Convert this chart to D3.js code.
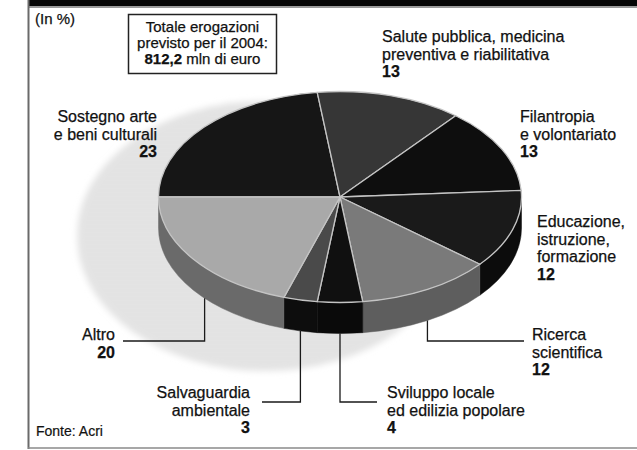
<!DOCTYPE html>
<html><head><meta charset="utf-8">
<script src="https://cdn.jsdelivr.net/npm/d3@7"></script>
<style>body{margin:0;background:#fff}svg{display:block}</style>
</head><body>
<svg id="c" width="637" height="450"></svg>
<script>
// ---- data ----
const categories = [
  "Sostegno arte e beni culturali",
  "Salute pubblica, medicina preventiva e riabilitativa",
  "Filantropia e volontariato",
  "Educazione, istruzione, formazione",
  "Ricerca scientifica",
  "Sviluppo locale ed edilizia popolare",
  "Salvaguardia ambientale",
  "Altro"
];
const values = [23, 13, 13, 12, 12, 4, 3, 20];
const labelLines = [
  ["Sostegno arte", "e beni culturali"],
  ["Salute pubblica, medicina", "preventiva e riabilitativa"],
  ["Filantropia", "e volontariato"],
  ["Educazione,", "istruzione,", "formazione"],
  ["Ricerca", "scientifica"],
  ["Sviluppo locale", "ed edilizia popolare"],
  ["Salvaguardia", "ambientale"],
  ["Altro"]
];
const unitLabel = "(In %)";
const boxLines = ["Totale erogazioni", "previsto per il 2004:"];
const totalValue = "812,2";
const totalUnit = " mln di euro";
const sourceLabel = "Fonte: Acri";

// ---- styles / layout ----
const topColors  = ["#161616", "#363636", "#0e0e0e", "#1a1a1a", "#7a7a7a", "#101010", "#4a4a4a", "#a9a9a9"];
const sideColors = ["#111111", "#222222", "#0a0a0a", "#0c0c0c", "#5e5e5e", "#0a0a0a", "#0d0d0d", "#6a6a6a"];
const labelLayout = [
  {x: 157, y: 122, anchor: "end"},
  {x: 382, y: 42,  anchor: "start"},
  {x: 520, y: 122, anchor: "start"},
  {x: 537, y: 227, anchor: "start"},
  {x: 532, y: 340, anchor: "start"},
  {x: 387, y: 398, anchor: "start"},
  {x: 250, y: 398, anchor: "end"},
  {x: 115, y: 340, anchor: "end"}
];
// leader: fraction inside slice, elbow y, end x
const leaderLayout = {
  4: {f: 0.5,  y: 341, x: 524},
  5: {f: 0.5,  y: 402, x: 377},
  6: {f: 0.5,  y: 402, x: 262},
  7: {f: 0.42, y: 341, x: 123}
};
const font = "'Liberation Sans', Arial, Helvetica, sans-serif";
const lh = 17.5;

const svg = d3.select("#c");
const defs = svg.append("defs");
defs.append("filter").attr("id", "soft").attr("x", "-10%").attr("y", "-10%").attr("width", "120%").attr("height", "120%")
  .append("feGaussianBlur").attr("stdDeviation", 3);
const pat = defs.append("pattern").attr("id", "ht").attr("width", 4).attr("height", 4).attr("patternUnits", "userSpaceOnUse");
pat.append("rect").attr("width", 4).attr("height", 4).attr("fill", "#ebebeb");
pat.append("path").attr("d", "M0,0.5H4M0.5,0V4").attr("stroke", "#d9d9d9").attr("stroke-width", 1);

// frame
svg.append("rect").attr("x", 28).attr("y", 0).attr("width", 609).attr("height", 6).attr("fill", "#050505");
svg.append("rect").attr("x", 28).attr("y", 6).attr("width", 609).attr("height", 2).attr("fill", "#9a9a9a");
svg.append("line").attr("x1", 28.5).attr("x2", 28.5).attr("y1", 0).attr("y2", 449)
  .attr("stroke", "#6a6a6a").attr("stroke-width", 2);
svg.append("line").attr("x1", 28).attr("x2", 637).attr("y1", 448).attr("y2", 448)
  .attr("stroke", "#8a8a8a").attr("stroke-width", 1.5);

// shadow
svg.append("ellipse").attr("cx", 265).attr("cy", 236).attr("rx", 188).attr("ry", 135)
  .attr("fill", "url(#ht)").attr("filter", "url(#soft)");

// pie geometry
const cx = 340, cy = 197, rx = 181.5, ry = 105.5, depth = 31;
const pie = d3.pie().sort(null).startAngle(-Math.PI / 2).endAngle(1.5 * Math.PI);
const arcs = pie(values);
const P = (a, dy = 0) => [cx + rx * Math.sin(a), cy - ry * Math.cos(a) + dy];

function topPath(d) {
  const [x0, y0] = P(d.startAngle), [x1, y1] = P(d.endAngle);
  const large = d.endAngle - d.startAngle > Math.PI ? 1 : 0;
  return `M${cx},${cy}L${x0},${y0}A${rx},${ry} 0 ${large} 1 ${x1},${y1}Z`;
}
function sidePath(d) {
  const a0 = Math.max(d.startAngle, Math.PI / 2), a1 = Math.min(d.endAngle, 1.5 * Math.PI);
  if (a1 <= a0) return null;
  const [x0, y0] = P(a0), [x1, y1] = P(a1);
  const [x2, y2] = P(a1, depth), [x3, y3] = P(a0, depth);
  return `M${x0},${y0}A${rx},${ry} 0 0 1 ${x1},${y1}L${x2},${y2}A${rx},${ry} 0 0 0 ${x3},${y3}Z`;
}

const g = svg.append("g");
g.selectAll("path.side").data(arcs.filter(d => sidePath(d))).join("path")
  .attr("class", "side").attr("d", sidePath)
  .attr("fill", d => sideColors[d.index]).attr("stroke", d => sideColors[d.index]).attr("stroke-width", 0.5);
g.selectAll("path.top").data(arcs).join("path")
  .attr("class", "top").attr("d", topPath)
  .attr("fill", d => topColors[d.index])
  .attr("stroke", "#c4c4c4").attr("stroke-width", 1.3).attr("stroke-linejoin", "round");

// leaders
Object.keys(leaderLayout).forEach(k => {
  const d = arcs[+k], L = leaderLayout[k];
  const a = d.startAngle + (d.endAngle - d.startAngle) * L.f;
  const [sx, sy] = P(a, depth);
  svg.append("polyline").attr("points", `${sx},${sy} ${sx},${L.y} ${L.x},${L.y}`)
    .attr("fill", "none").attr("stroke", "#1a1a1a").attr("stroke-width", 1.3);
});

// labels
arcs.forEach((d, i) => {
  const L = labelLayout[i];
  const t = svg.append("text").attr("font-family", font).attr("font-size", 16)
    .attr("fill", "#111").attr("stroke", "#111").attr("stroke-width", 0.25)
    .attr("text-anchor", L.anchor);
  labelLines[i].forEach((s, j) => {
    t.append("tspan").attr("x", L.x).attr("y", L.y + j * lh).text(s);
  });
  t.append("tspan").attr("x", L.x).attr("y", L.y + labelLines[i].length * lh)
    .attr("font-weight", "bold").text(d3.format("d")(values[i]));
});

// unit
svg.append("text").attr("x", 35).attr("y", 24).attr("font-family", font).attr("font-size", 15)
  .attr("fill", "#111").attr("stroke", "#111").attr("stroke-width", 0.25).text(unitLabel);

// total box
svg.append("rect").attr("x", 128.5).attr("y", 14.5).attr("width", 148).attr("height", 59)
  .attr("fill", "#fff").attr("stroke", "#222").attr("stroke-width", 1.5);
const bt = svg.append("text").attr("font-family", font).attr("font-size", 15)
  .attr("fill", "#111").attr("stroke", "#111").attr("stroke-width", 0.25).attr("text-anchor", "middle");
boxLines.forEach((s, j) => bt.append("tspan").attr("x", 202.5).attr("y", 32 + j * 16).text(s));
const l3 = bt.append("tspan").attr("x", 202.5).attr("y", 64);
l3.append("tspan").attr("font-weight", "bold").text(totalValue);
l3.append("tspan").text(totalUnit);

// source
svg.append("text").attr("x", 36).attr("y", 436).attr("font-family", font).attr("font-size", 14)
  .attr("fill", "#111").attr("stroke", "#111").attr("stroke-width", 0.2).text(sourceLabel);
</script>
</body></html>
